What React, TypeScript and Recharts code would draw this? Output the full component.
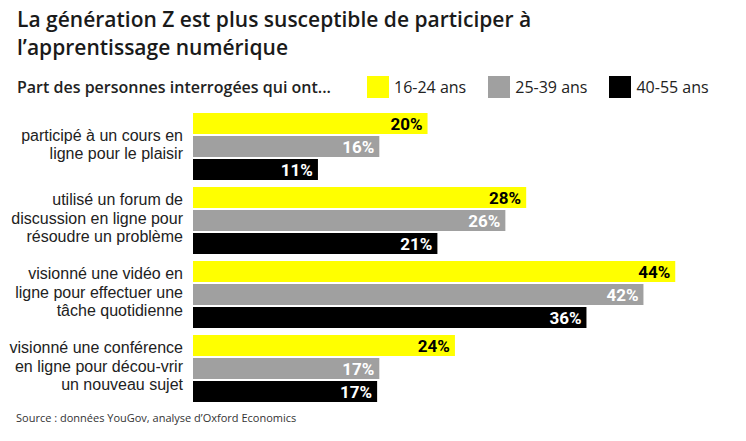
import React from "react"
import { BarChart, Bar, XAxis, YAxis, Legend, LabelList } from "recharts"

const categories = [
  "participé à un cours en\nligne pour le plaisir",
  "utilisé un forum de\ndiscussion en ligne pour\nrésoudre un problème",
  "visionné une vidéo en\nligne pour effectuer une\ntâche quotidienne",
  "visionné une conférence\nen ligne pour décou-vrir\nun nouveau sujet",
]
const seriesNames = ["16-24 ans", "25-39 ans", "40-55 ans"]
const colors = ["#FFFF00", "#A0A0A0", "#000000"]
const labelColors = ["#000000", "#FFFFFF", "#FFFFFF"]

// percentages printed on the bars
const labels1 = [20, 28, 44, 24]
const labels2 = [16, 26, 42, 17]
const labels3 = [11, 21, 36, 17]

// bar lengths as drawn in the source (not exactly proportional to the labels)
const values1 = [21.4, 30.4, 44.0, 23.9]
const values2 = [17.0, 28.5, 41.1, 17.0]
const values3 = [11.4, 22.3, 35.9, 16.8]

const data = categories.map((c, i) => ({
  name: c,
  s1: values1[i], s2: values2[i], s3: values3[i],
  l1: labels1[i], l2: labels2[i], l3: labels3[i],
}))

const font = "'Open Sans', Roboto, sans-serif"
const tickFont = "'Liberation Sans', Arial, sans-serif"
const boldFont = "Roboto, 'Noto Sans', sans-serif"

function CategoryTick({ x, y, payload }: any) {
  const lines = String(payload.value).split("\n")
  const lh = 18.2
  const y0 = y - ((lines.length - 1) * lh) / 2 - 2
  return (
    <text x={x} y={y0} textAnchor="end" fontSize={16} fill="#222" fontFamily={tickFont}>
      {lines.map((l, i) => (
        <tspan key={i} x={x} y={y0 + i * lh} dy="0.35em">{l}</tspan>
      ))}
    </text>
  )
}

function LegendRow({ payload }: any) {
  return (
    <div style={{ display: "flex", alignItems: "center", height: 22, fontFamily: font, fontSize: 16, color: "#222" }}>
      <span style={{ fontWeight: 600, width: 350 }}>Part des personnes interrogées qui ont...</span>
      {(payload || []).map((p: any, i: number) => (
        <span key={i} style={{ display: "flex", alignItems: "center", marginRight: 22 }}>
          <span style={{ display: "inline-block", width: 22, height: 22, background: p.color, marginRight: 5 }} />
          <span>{p.value}</span>
        </span>
      ))}
    </div>
  )
}

export default function App() {
  return (
    <div style={{ position: "absolute", left: 0, top: 0, width: 746, height: 441, background: "#fff", overflow: "hidden" }}>
      <div style={{ position: "absolute", left: 17, top: 5, fontFamily: font, fontSize: 21, fontWeight: 600, lineHeight: "28px", color: "#1a1a1a", whiteSpace: "nowrap" }}>
        La génération Z est plus susceptible de participer à<br />l’apprentissage numérique
      </div>
      <BarChart
        width={746}
        height={441}
        data={data}
        layout="vertical"
        margin={{ top: 87, right: 5, bottom: 36, left: 0 }}
        barCategoryGap={4}
        barGap={2}
      >
        <XAxis type="number" domain={[0, 50]} hide />
        <YAxis type="category" dataKey="name" width={193} axisLine={false} tickLine={false} tickMargin={4} tick={<CategoryTick />} interval={0} />
        <Legend verticalAlign="top" content={<LegendRow />} wrapperStyle={{ top: 76, left: 17, width: "auto" }} />
        {["s1", "s2", "s3"].map((k, i) => (
          <Bar key={k} dataKey={k} name={seriesNames[i]} fill={colors[i]} isAnimationActive={false}>
            <LabelList
              dataKey={"l" + (i + 1)}
              position="insideRight"
              offset={5}
              formatter={(v: any) => v + "%"}
              fill={labelColors[i]}
              style={{ fontFamily: boldFont, fontSize: 17, fontWeight: 700 }}
            />
          </Bar>
        ))}
      </BarChart>
      <div style={{ position: "absolute", left: 16, top: 410, fontFamily: font, fontSize: 11, color: "#333" }}>
        Source : données YouGov, analyse d’Oxford Economics
      </div>
    </div>
  )
}
